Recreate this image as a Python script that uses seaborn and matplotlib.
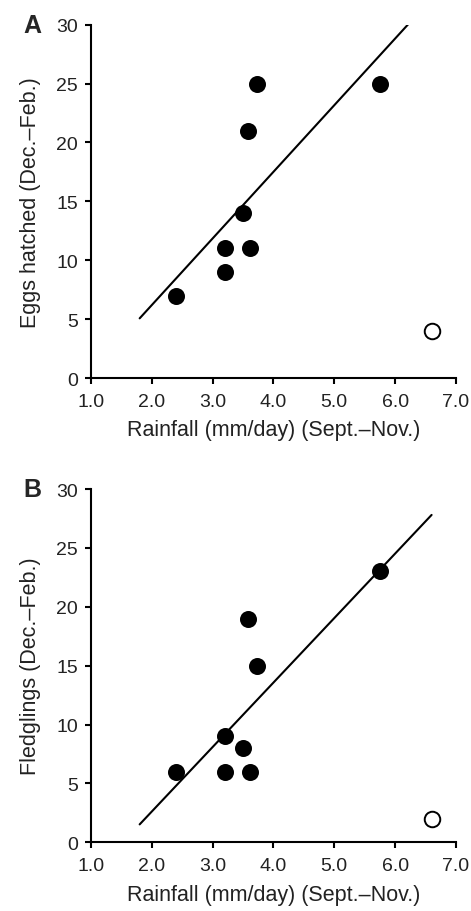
import numpy as np
import matplotlib
matplotlib.use("Agg")
import matplotlib.pyplot as plt
import seaborn as sns

# rainfall (mm/day, Sept.-Nov.) for the filled points
rain = [2.4, 3.2, 3.2, 3.5, 3.58, 3.62, 3.73, 5.75]
eggs = [7, 11, 9, 14, 21, 11, 25, 25]
fledglings = [6, 9, 6, 8, 19, 6, 15, 23]

# the open (excluded) point
rain_out = [6.6]
eggs_out = [4]
fledglings_out = [2]

fit_range = [1.8, 6.6]  # x span of the regression line
x_ticks = [1.0, 2.0, 3.0, 4.0, 5.0, 6.0, 7.0]
y_ticks = [0, 5, 10, 15, 20, 25, 30]

sns.set_style("ticks")
plt.rcParams["font.family"] = ["Liberation Sans", "DejaVu Sans"]

fig = plt.figure(figsize=(4.71, 9.12), dpi=100)
axA = fig.add_axes([0.1932, 0.5844, 0.7748, 0.3874])
axB = fig.add_axes([0.1932, 0.0753, 0.7748, 0.3874])

panels = [
    (axA, eggs, eggs_out, "Eggs hatched (Dec.\u2013Feb.)", "A"),
    (axB, fledglings, fledglings_out, "Fledglings (Dec.\u2013Feb.)", "B"),
]

for ax, y, y_out, ylab, letter in panels:
    # least-squares line through the filled points only
    slope, icpt = np.polyfit(rain, y, 1)
    xl = np.array(fit_range)
    sns.lineplot(x=xl, y=icpt + slope * xl, ax=ax, color="black", lw=1.5)

    sns.scatterplot(x=rain, y=y, ax=ax, color="black", s=150,
                    edgecolor="black", linewidth=0, zorder=3)
    sns.scatterplot(x=rain_out, y=y_out, ax=ax, facecolor="white", s=125,
                    edgecolor="black", linewidth=1.4, zorder=3)

    ax.set_xlim(1.0, 7.0)
    ax.set_ylim(0, 30)
    ax.set_xticks(x_ticks)
    ax.set_xticklabels([f"{v:.1f}" for v in x_ticks])
    ax.set_yticks(y_ticks)
    ax.tick_params(labelsize=14, length=4.5, width=1.5, colors="black",
                   labelcolor="#222222")
    ax.tick_params(axis="x", pad=6)
    ax.tick_params(axis="y", pad=5)
    for side in ["left", "bottom"]:
        ax.spines[side].set_linewidth(1.5)
        ax.spines[side].set_color("black")
    sns.despine(ax=ax)
    ax.set_xlabel("Rainfall (mm/day) (Sept.\u2013Nov.)", fontsize=15.5,
                  color="#222222", labelpad=7)
    ax.set_ylabel(ylab, fontsize=15.5, color="#222222", labelpad=11)
    ax.text(-0.16, 1.0, letter, transform=ax.transAxes, fontsize=18,
            fontweight="bold", ha="center", va="center")

fig.savefig("out.png", dpi=100)
